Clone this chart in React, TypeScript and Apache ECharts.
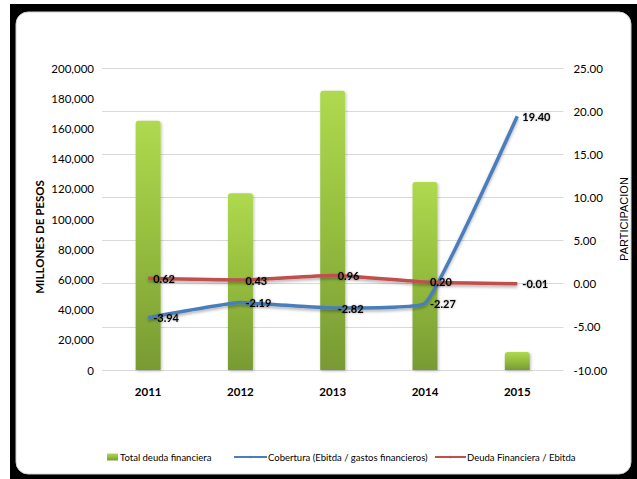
import React, { useEffect, useRef } from "react";
import * as echarts from "echarts";

const categories = ["2011", "2012", "2013", "2014", "2015"];
const totalDeuda = [165000, 117000, 185000, 124500, 12000];
const cobertura = [-3.94, -2.19, -2.82, -2.27, 19.4];
const deudaEbitda = [0.62, 0.43, 0.96, 0.2, -0.01];

const FONT = "Lato, 'Open Sans', sans-serif";

export default function App() {
  const ref = useRef<HTMLDivElement>(null);
  useEffect(() => {
    if (!ref.current) return;
    const chart = echarts.init(ref.current, undefined, { renderer: "svg" });
    const lineLabel = {
      show: true,
      position: "right" as const,
      distance: 5,
      color: "#000",
      fontSize: 11,
      fontWeight: "bold" as const,
      fontFamily: FONT,
      textShadowColor: "rgba(0,0,0,0.35)",
      textShadowBlur: 2,
      formatter: (p: any) => Number(p.value).toFixed(2),
    };
    const legendText = { fontSize: 9.5, color: "#000", fontFamily: FONT };
    chart.setOption({
      animation: false,
      backgroundColor: "#ffffff",
      textStyle: { fontFamily: FONT },
      graphic: [
        { type: "rect", z: -10, silent: true, shape: { x: 10, y: 4, width: 640, height: 490 }, style: { fill: "#000" } },
        { type: "rect", z: -9, silent: true, shape: { x: 16, y: 12, width: 615, height: 462, r: 12 }, style: { fill: "#fff", stroke: "#d0d0d0", lineWidth: 1 } },
      ],
      grid: { left: 102, right: 70, top: 68, bottom: 109 },
      legend: [
        {
          data: ["Total deuda financiera"],
          left: 102,
          top: 447,
          itemWidth: 11,
          itemHeight: 7,
          icon: "rect",
          textStyle: { ...legendText, padding: [0, 0, 0, -3] },
        },
        {
          data: ["Cobertura (Ebitda / gastos financieros)"],
          left: 228,
          top: 447,
          itemWidth: 33,
          itemHeight: 3,
          textStyle: { ...legendText, padding: [0, 0, 0, -4] },
        },
        {
          data: ["Deuda Financiera / Ebitda"],
          left: 429,
          top: 447,
          itemWidth: 31,
          itemHeight: 3,
          textStyle: { ...legendText, padding: [0, 0, 0, -4] },
        },
      ],
      xAxis: {
        type: "category",
        data: categories,
        axisLine: { show: false },
        axisTick: { show: false },
        axisLabel: { color: "#000", fontSize: 11.5, fontWeight: "bold", fontFamily: FONT, margin: 15 },
      },
      yAxis: [
        {
          type: "value",
          min: 0,
          max: 200000,
          interval: 20000,
          name: "MILLONES DE PESOS",
          nameLocation: "middle",
          nameRotate: 90,
          nameGap: 57,
          nameMoveOverlap: false,
          nameTextStyle: { color: "#000", fontSize: 11.5, fontWeight: "bold", fontFamily: FONT, padding: [0, 0, 0, -36] },
          axisLine: { show: false },
          axisTick: { show: false },
          splitLine: { show: false },
          axisLabel: {
            color: "#000",
            fontSize: 11.5,
            fontFamily: FONT,
            margin: 8,
            formatter: (v: number) => v.toLocaleString("en-US"),
          },
        },
        {
          type: "value",
          min: -10,
          max: 25,
          interval: 5,
          name: "PARTICIPACION",
          nameLocation: "middle",
          nameRotate: 90,
          nameGap: 48,
          nameTextStyle: { color: "#000", fontSize: 11, fontFamily: "'Liberation Sans', Arial, sans-serif" },
          axisLine: { show: false },
          axisTick: { show: false },
          splitLine: { show: true, lineStyle: { color: "#d9d9d9", width: 1 } },
          axisLabel: {
            color: "#000",
            fontSize: 11.5,
            fontFamily: FONT,
            margin: 10,
            formatter: (v: number) => v.toFixed(2),
          },
        },
      ],
      series: [
        {
          name: "Total deuda financiera",
          type: "bar",
          yAxisIndex: 0,
          barWidth: 25,
          data: totalDeuda,
          itemStyle: {
            borderRadius: [3, 3, 0, 0],
            color: new echarts.graphic.LinearGradient(0, 0, 0, 1, [
              { offset: 0, color: "#afd94f" },
              { offset: 0.5, color: "#95bd3e" },
              { offset: 1, color: "#789a33" },
            ]),
            shadowColor: "rgba(0,0,0,0.25)",
            shadowBlur: 3,
            shadowOffsetX: 1,
            shadowOffsetY: 1,
          },
        },
        {
          name: "Cobertura (Ebitda / gastos financieros)",
          type: "line",
          yAxisIndex: 1,
          data: cobertura,
          smooth: 0.1,
          symbol: "circle",
          symbolSize: 0,
          showSymbol: true,
          color: "#4a7ebb",
          lineStyle: { color: "#4a7ebb", width: 3.5, shadowColor: "rgba(0,0,0,0.3)", shadowBlur: 3, shadowOffsetY: 2 },
          label: lineLabel,
          z: 3,
        },
        {
          name: "Deuda Financiera / Ebitda",
          type: "line",
          yAxisIndex: 1,
          data: deudaEbitda,
          smooth: 0.2,
          symbol: "circle",
          symbolSize: 0,
          showSymbol: true,
          color: "#c0504d",
          lineStyle: { color: "#c0504d", width: 3.5, shadowColor: "rgba(0,0,0,0.3)", shadowBlur: 3, shadowOffsetY: 2 },
          label: lineLabel,
          z: 3,
        },
      ],
    });
    return () => chart.dispose();
  }, []);
  return (
    <div
      ref={ref}
      style={{ position: "fixed", left: 0, top: 0, width: 637, height: 479 }}
    />
  );
}
